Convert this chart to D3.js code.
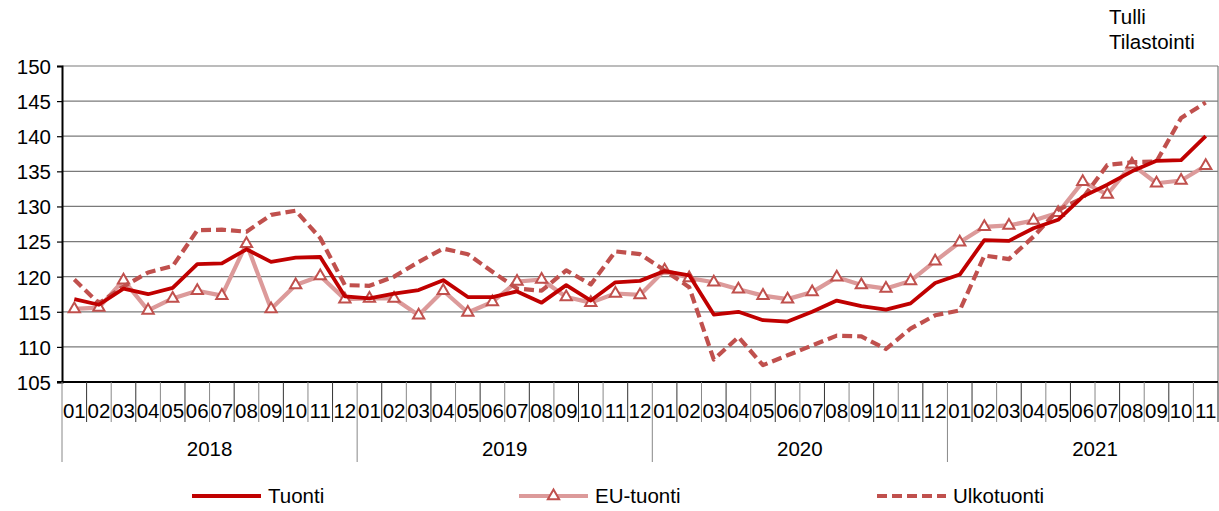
<!DOCTYPE html>
<html>
<head>
  <meta charset="UTF-8">
  <title>Tuonti, EU-tuonti, Ulkotuonti</title>
  <script src="https://d3js.org/d3.v7.min.js"></script>
  <style>
    body { margin: 0; background: #fff; }
    svg { font-family: "Liberation Sans", Arial, sans-serif; }
    .grid-line { stroke: #7a7a7a; stroke-width: 1.2; }
    .tick-text { font-size: 20.5px; fill: #000; }
  </style>
</head>
<body>
  <svg width="1219" height="511"></svg>

  <script>
    const years = [2018, 2019, 2020, 2021];
    const monthLabels = ["01","02","03","04","05","06","07","08","09","10","11","12"];
    const yTicks = [105, 110, 115, 120, 125, 130, 135, 140, 145, 150];

    // 2018-01 .. 2021-11
    const tuonti = [
      116.8, 116.0, 118.3, 117.5, 118.4, 121.8, 121.9, 123.9, 122.1, 122.7, 122.8, 117.2,
      116.9, 117.6, 118.1, 119.5, 117.1, 117.1, 117.9, 116.3, 118.8, 116.6, 119.2, 119.4,
      120.8, 120.2, 114.6, 115.0, 113.8, 113.6, 115.0, 116.6, 115.8, 115.3, 116.2, 119.1,
      120.3, 125.2, 125.1, 126.9, 128.1, 131.4, 133.1, 135.0, 136.5, 136.6, 140.0
    ];
    const euTuonti = [
      115.4, 115.6, 119.5, 115.2, 116.9, 118.0, 117.3, 124.7, 115.4, 118.8, 120.1, 116.8,
      116.9, 116.9, 114.5, 118.0, 114.9, 116.4, 119.3, 119.6, 117.1, 116.3, 117.6, 117.4,
      120.9, 119.8, 119.2, 118.2, 117.3, 116.8, 117.8, 119.9, 118.8, 118.3, 119.4, 122.2,
      124.9, 127.1, 127.3, 128.0, 129.1, 133.5, 131.7, 136.0, 133.3, 133.7, 135.8
    ];
    const ulkotuonti = [
      119.6, 116.2, 118.6, 120.6, 121.5, 126.6, 126.7, 126.4, 128.8, 129.4, 125.5, 118.8,
      118.7, 120.0, 122.1, 124.0, 123.2, 120.7, 118.3, 118.0, 120.9, 118.9, 123.6, 123.2,
      120.9, 118.5, 108.2, 111.4, 107.4, 108.8, 110.2, 111.6, 111.5, 109.7, 112.6, 114.5,
      115.2, 123.0, 122.5, 125.7, 129.5, 131.2, 135.9, 136.3, 136.4, 142.6, 144.8
    ];

    const categories = years.flatMap(yr => monthLabels.map(m => ({ year: yr, month: m })))
      .slice(0, tuonti.length);

    const series = [
      { name: "Tuonti", values: tuonti, color: "#c00000", width: 3.8, dash: null, marker: false },
      { name: "EU-tuonti", values: euTuonti, color: "#dc9a9a", width: 4.2, dash: null, marker: true },
      { name: "Ulkotuonti", values: ulkotuonti, color: "#c0504d", width: 4.2, dash: "10,5", marker: false }
    ];

    const svg = d3.select("svg");
    const plotLeft = 62, plotRight = 1218, plotTop = 66, plotBottom = 382;

    const x = d3.scaleBand()
      .domain(d3.range(categories.length))
      .range([plotLeft, plotRight])
      .padding(0);

    const y = d3.scaleLinear()
      .domain([105, 150])
      .range([plotBottom, plotTop]);

    // grid lines
    svg.append("g")
      .selectAll("line")
      .data(yTicks)
      .join("line")
      .attr("class", "grid-line")
      .attr("x1", plotLeft)
      .attr("x2", plotRight)
      .attr("y1", d => y(d))
      .attr("y2", d => y(d));

    // right border
    svg.append("line")
      .attr("class", "grid-line")
      .attr("x1", plotRight).attr("x2", plotRight)
      .attr("y1", plotTop).attr("y2", plotBottom);

    // y axis
    const yAxis = svg.append("g")
      .attr("transform", `translate(${plotLeft},0)`)
      .call(d3.axisLeft(y).tickValues(yTicks).tickSize(5).tickPadding(6));
    yAxis.select(".domain").attr("stroke", "#000").attr("stroke-width", 2);
    yAxis.selectAll(".tick line").attr("stroke", "#000").attr("stroke-width", 1.2);
    yAxis.selectAll(".tick text")
      .attr("class", "tick-text")
      .attr("dy", "0.36em");

    // x axis baseline
    svg.append("line")
      .attr("x1", plotLeft - 5).attr("x2", plotRight)
      .attr("y1", plotBottom).attr("y2", plotBottom)
      .attr("stroke", "#000").attr("stroke-width", 2);

    // month tick separators
    const bounds = d3.range(categories.length + 1);
    svg.append("g")
      .selectAll("line")
      .data(bounds)
      .join("line")
      .attr("x1", i => plotLeft + i * x.step())
      .attr("x2", i => plotLeft + i * x.step())
      .attr("y1", plotBottom)
      .attr("y2", i => (i % 12 === 0 && i < categories.length) ? 462 : 422)
      .attr("stroke", i => i % 2 ? "#333" : "#888")
      .attr("stroke-width", 1);

    // month labels
    svg.append("g")
      .selectAll("text")
      .data(categories)
      .join("text")
      .attr("class", "tick-text")
      .attr("x", (d, i) => x(i) + x.bandwidth() / 2)
      .attr("y", 411)
      .attr("dy", "0.36em")
      .attr("text-anchor", "middle")
      .text(d => d.month);

    // year labels
    svg.append("g")
      .selectAll("text")
      .data(years)
      .join("text")
      .attr("class", "tick-text")
      .attr("x", (d, k) => plotLeft + (k * 12 + 6) * x.step())
      .attr("y", 449)
      .attr("dy", "0.36em")
      .attr("text-anchor", "middle")
      .text(d => d);

    // lines
    const line = d3.line()
      .x((d, i) => x(i) + x.bandwidth() / 2)
      .y(d => y(d));

    const drawOrder = [series[1], series[2], series[0]];
    drawOrder.forEach(s => {
      svg.append("path")
        .datum(s.values)
        .attr("fill", "none")
        .attr("stroke", s.color)
        .attr("stroke-width", s.width)
        .attr("stroke-dasharray", s.dash)
        .attr("stroke-linejoin", "round")
        .attr("d", line);
      if (s.marker) {
        svg.append("g")
          .selectAll("path")
          .data(s.values)
          .join("path")
          .attr("d", d3.symbol(d3.symbolTriangle, 55))
          .attr("transform", (d, i) => `translate(${x(i) + x.bandwidth() / 2},${y(d)})`)
          .attr("fill", "#fff")
          .attr("stroke", "#c0504d")
          .attr("stroke-width", 2);
      }
    });

    // legend
    const legendX = [192, 519, 877];
    const legend = svg.append("g");
    series.forEach((s, k) => {
      const g = legend.append("g").attr("transform", `translate(${legendX[k]},496)`);
      g.append("line")
        .attr("x1", 0).attr("x2", 69)
        .attr("y1", 0).attr("y2", 0)
        .attr("stroke", s.color)
        .attr("stroke-width", s.width)
        .attr("stroke-dasharray", s.dash);
      if (s.marker) {
        g.append("path")
          .attr("d", d3.symbol(d3.symbolTriangle, 55))
          .attr("transform", "translate(34.5,0)")
          .attr("fill", "#fff")
          .attr("stroke", "#c0504d")
          .attr("stroke-width", 2);
      }
      g.append("text")
        .attr("class", "tick-text")
        .attr("x", 76)
        .attr("dy", "0.36em")
        .text(s.name);
    });

    // source
    const src = svg.append("text")
      .attr("class", "tick-text")
      .attr("x", 1109)
      .attr("y", 24);
    src.append("tspan").attr("x", 1109).text("Tulli");
    src.append("tspan").attr("x", 1109).attr("dy", 25).text("Tilastointi");
  </script>
</body>
</html>
